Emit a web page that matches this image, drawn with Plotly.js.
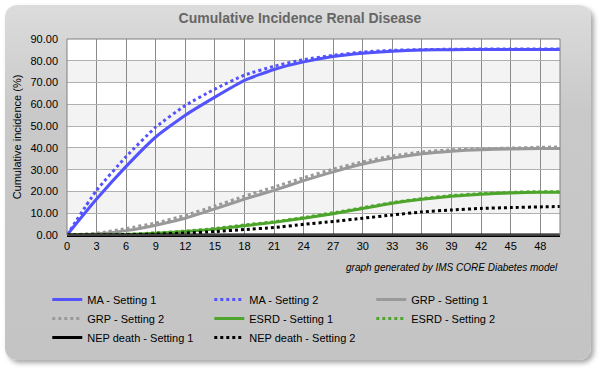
<!DOCTYPE html>
<html>
<head>
<meta charset="utf-8">
<script src="https://cdn.plot.ly/plotly-3.0.1.min.js"></script>
<style>
  html, body { margin: 0; padding: 0; background: #ffffff; }
  #wrap { position: relative; width: 600px; height: 372px; overflow: hidden; }
  #panel { position: absolute; left: 5px; top: 5px; width: 586px; height: 355px;
           border-radius: 12px; background: linear-gradient(#dcdcdc, #c9c9c9 30%, #c4c4c4);
           box-shadow: 3px 3px 5px rgba(0,0,0,0.35); }
  #chart { position: absolute; left: 0; top: 0; width: 600px; height: 372px; }
</style>
</head>
<body>
<div id="wrap"><div id="panel"></div><div id="chart"></div></div>
<script>
const years = [0, 3, 6, 9, 12, 15, 18, 21, 24, 27, 30, 33, 36, 39, 42, 45, 48, 50];
const ma1   = [0, 16.5, 31.5, 45, 55, 63.3, 71, 76, 79.5, 82, 83.5, 84.4, 84.9, 85.1, 85.2, 85.2, 85.2, 85.2];
const ma2   = [0, 20.5, 36, 49.5, 59.5, 67, 73.4, 77.5, 80.5, 82.5, 84, 84.8, 85.1, 85.3, 85.4, 85.4, 85.4, 85.4];
const grp1  = [0, 0.5, 2, 4.5, 7.7, 12, 16.5, 20.5, 25, 29, 32.6, 35.3, 37.3, 38.5, 39.2, 39.5, 39.7, 39.7];
const grp2  = [0, 0.8, 3, 5.5, 9, 13.3, 17.8, 22, 26.3, 30.2, 33.6, 36.3, 38.1, 39.1, 39.6, 39.9, 40.3, 40.4];
const esrd1 = [0, 0, 0.2, 0.8, 1.6, 2.7, 4.3, 5.8, 7.7, 9.8, 12.2, 14.6, 16.4, 17.8, 18.7, 19.3, 19.6, 19.6];
const esrd2 = [0, 0, 0.3, 1, 1.8, 3, 4.6, 6.1, 8, 10.2, 12.5, 14.9, 16.7, 18.1, 19, 19.6, 19.9, 19.9];
const nep1  = [0, 0, 0, 0, 0, 0, 0, 0, 0, 0, 0, 0, 0, 0, 0, 0, 0, 0];
const nep2  = [0, 0, 0.1, 0.4, 0.9, 1.6, 2.5, 3.4, 4.9, 6.2, 7.7, 9.2, 10.6, 11.5, 12.2, 12.6, 12.9, 13.1];
const seriesNames = ["MA - Setting 1", "MA - Setting 2", "GRP - Setting 1", "GRP - Setting 2",
                     "ESRD - Setting 1", "ESRD - Setting 2", "NEP death - Setting 1", "NEP death - Setting 2"];
const xTicks = [0, 3, 6, 9, 12, 15, 18, 21, 24, 27, 30, 33, 36, 39, 42, 45, 48];
const bands = [[10, 20], [30, 40], [50, 60], [70, 80]];

const series = [ma1, ma2, grp1, grp2, esrd1, esrd2, nep1, nep2];
const colors = ["#5252ff", "#5252ff", "#999999", "#999999", "#4ea52c", "#4ea52c", "#000000", "#000000"];
const dashes = ["solid", "dot", "solid", "dot", "solid", "dot", "solid", "dot"];

const traces = series.map((ys, i) => ({
  x: years, y: ys, name: seriesNames[i], type: "scatter", mode: "lines",
  line: { color: colors[i], width: 3, dash: dashes[i], shape: "spline", smoothing: 0.5 },
  cliponaxis: false
}));

const shapes = bands.map(b => ({
  type: "rect", xref: "paper", yref: "y", x0: 0, x1: 1, y0: b[0], y1: b[1],
  fillcolor: "#f3f3f3", line: { width: 0 }, layer: "below"
}));
shapes.push({ type: "rect", xref: "paper", yref: "paper", x0: 0, x1: 1, y0: 0, y1: 1,
  line: { color: "#808080", width: 1 }, fillcolor: "rgba(0,0,0,0)", layer: "above" });

const layout = {
  width: 600, height: 372,
  paper_bgcolor: "rgba(0,0,0,0)", plot_bgcolor: "#ffffff",
  margin: { l: 67, r: 40, t: 39, b: 137 },
  font: { family: "Liberation Sans, Arial, sans-serif", size: 11, color: "#000000" },
  title: { text: "<b>Cumulative Incidence Renal Disease</b>", x: 0.5, xanchor: "center",
           y: 0.952, yanchor: "middle", yref: "container",
           font: { family: "Liberation Sans, Arial, sans-serif", size: 14, color: "#666666" } },
  xaxis: { range: [0, 50], tickvals: xTicks, ticktext: xTicks.map(String),
           showgrid: true, gridcolor: "#8a8a8a", gridwidth: 1, zeroline: false,
           showline: true, linecolor: "#000000", linewidth: 2, ticks: "",
           tickfont: { size: 11, color: "#000000" }, fixedrange: true },
  yaxis: { range: [0, 90], dtick: 10, tickformat: ".2f",
           showgrid: true, gridcolor: "#b0b0b0", gridwidth: 1, zeroline: false,
           showline: false, ticks: "", ticklabelstandoff: 8,
           tickfont: { size: 11, color: "#000000" },
           title: { text: "Cumulative incidence (%)", font: { size: 11, color: "#000000" }, standoff: 6 },
           fixedrange: true },
  shapes: shapes,
  annotations: [{ text: "<i>graph generated by IMS CORE Diabetes model</i>", xref: "paper", yref: "paper",
                  x: 1, y: -0.168, xanchor: "right", yanchor: "middle", showarrow: false,
                  font: { size: 10, color: "#000000" } }],
  legend: { orientation: "h", x: -0.04, y: -0.255, xanchor: "left", yanchor: "top",
            bgcolor: "rgba(0,0,0,0)", entrywidth: 117, entrywidthmode: "pixels",
            itemwidth: 30, font: { size: 11, color: "#000000" }, traceorder: "normal" },
  showlegend: true
};

Plotly.newPlot("chart", traces, layout, { displayModeBar: false, staticPlot: true });
</script>
</body>
</html>
